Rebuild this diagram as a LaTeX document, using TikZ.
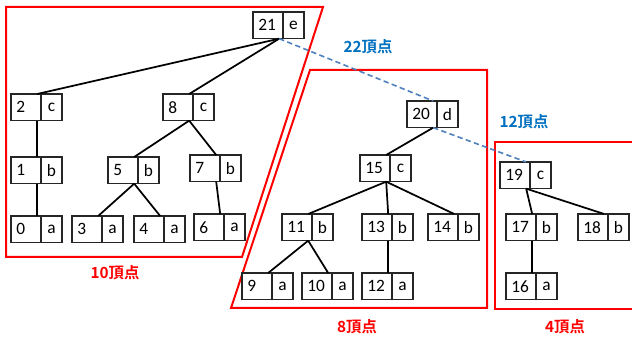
\documentclass[tikz,border=0pt]{standalone}
\usepackage{fontspec}
\setmainfont{Carlito}
\newfontfamily\jpfont{Noto Sans CJK JP}[BoldFont={Noto Sans CJK JP Bold}]
\usetikzlibrary{positioning}
\definecolor{grRed}{RGB}{255, 0, 0}
\definecolor{grBlue}{RGB}{0, 112, 192}
\definecolor{grDash}{RGB}{79, 129, 189}

\begin{document}
\begin{tikzpicture}[x=0.75pt, y=-0.75pt,
    numcell/.style={draw=black!85, line width=0.9pt, fill=white, inner sep=0pt,
      outer sep=0pt, minimum width=22.5pt, minimum height=20pt, text width=14.5pt,
      align=left, font=\fontsize{13}{15}\selectfont},
    charcell/.style={numcell, minimum width=15.75pt, text width=, align=center},
    edge/.style={line width=1.3pt},
    border/.style={draw=grRed, line width=1.5pt},
    count/.style={font=\jpfont\bfseries\fontsize{11.5}{13}\selectfont}]
    \clip (0,0) rectangle (632,338);
    \draw[border] (6,7) -- (323,7) -- (242,257) -- (6,257) -- cycle;
    \draw[border] (310,70) -- (487,70) -- (487,308) -- (231,308) -- cycle;
    \draw[border] (495,142) rectangle (650,309);
    \foreach \n/\x/\y/\s in {%
      21/253/12/e, 2/11/94/c, 8/163/94/c, 1/11/157/b, 5/108/157/b,%
      7/190/155/b, 0/11/216/a, 3/72/216/a, 4/134/216/a, 6/194/214/a,%
      20/407/101/d, 15/360/155/c, 11/282/214/b, 13/362/214/b, 14/428/214/b,%
      9/242/273/a, 10/302/273/a, 12/362/273/a,%
      19/500/162/c, 17/506/214/b, 18/578/214/b, 16/506/273/a%
    }{%
      \node[numcell, anchor=north west] (v\n) at (\x,\y) {\n};
      \node[charcell, right=0pt of v\n] (c\n) {\s};
    }
    \foreach \a/\b in {21/2, 21/8, 2/1, 1/0, 8/5, 8/7, 5/3, 5/4, 7/6,%
      20/15, 15/11, 15/13, 15/14, 11/9, 11/10, 13/12, 19/17, 19/18, 17/16}
      \draw[edge] (v\a.-50) -- (v\b.50);
    \draw[grDash, line width=1.2pt, dash pattern=on 4pt off 2.5pt]
      (v21.-50) -- (v20.50) (v20.-50) -- (v19.50);
    \node[count, text=grRed] (cnt10) at (115,273) {10頂点};
    \node[count, text=grRed] (cnt8) at (357,327) {8頂点};
    \node[count, text=grRed] (cnt4) at (565,327) {4頂点};
    \node[count, text=grBlue] (cnt22) at (368,47) {22頂点};
    \node[count, text=grBlue] (cnt12) at (524,122) {12頂点};
  \end{tikzpicture}
\end{document}
